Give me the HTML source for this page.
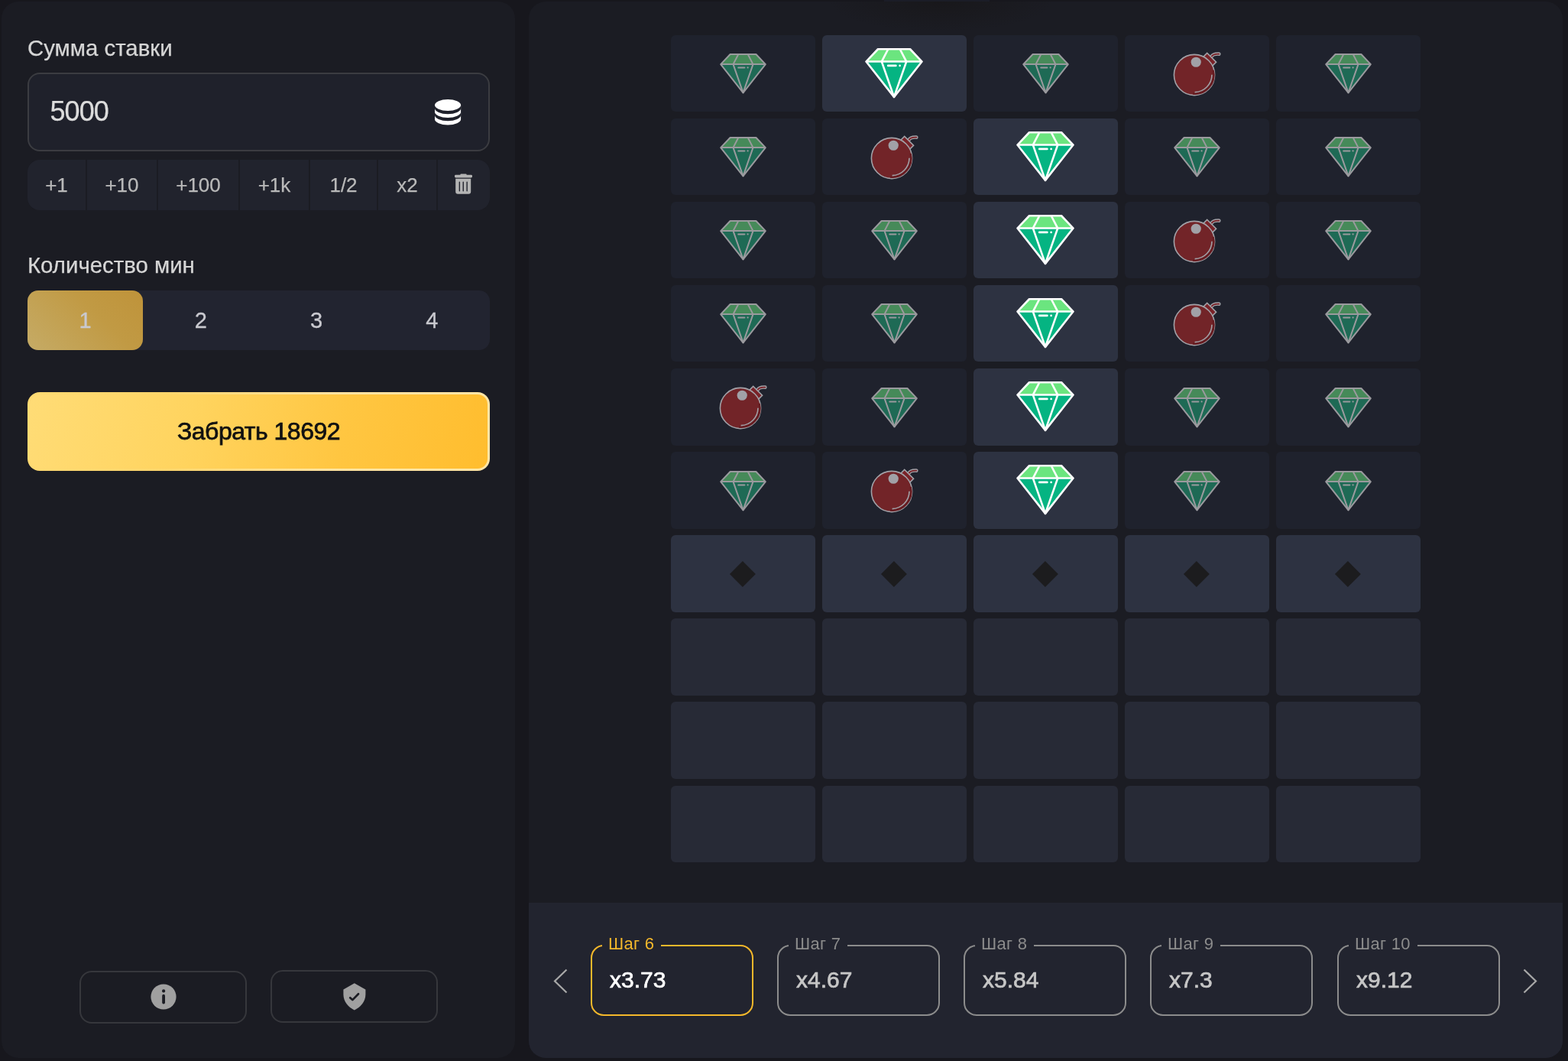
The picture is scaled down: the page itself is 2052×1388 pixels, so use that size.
<!DOCTYPE html>
<html lang="ru">
<head>
<meta charset="utf-8">
<title>Mines</title>
<style>
*{box-sizing:border-box;margin:0;padding:0}
html,body{width:2052px;height:1388px;overflow:hidden}
body{background:#17171d;font-family:"Liberation Sans",Arial,sans-serif;position:relative}
.abs{position:absolute}
#left{left:2px;top:2px;width:672px;height:1382px;background:#1b1c23;border-radius:22px}
#right{left:692px;top:2px;width:1353px;height:1382px;background:#1b1c23;border-radius:22px;overflow:hidden}
#steps{left:0;top:1179px;width:1353px;height:203px;background:#22242f}
.lbl{color:#d6d6d6;font-size:29.4px;-webkit-text-stroke:0.25px #d6d6d6;white-space:nowrap}
#bet{left:34px;top:93px;width:605px;height:103px;border:2px solid #3b3c41;border-radius:16px;background:#1f212b}
#betv{left:27.6px;top:28px;font-size:36px;color:#dcdcdc;letter-spacing:-1px;-webkit-text-stroke:0.25px #dcdcdc}
#quick{left:34px;top:207px;width:605px;height:66px;border-radius:16px;overflow:hidden;display:flex;gap:2px;background:#1b1c23}
#quick div{background:#21232d;height:66px;display:flex;align-items:center;justify-content:center;color:#b9b9b9;font-size:26px;-webkit-text-stroke:0.25px #b9b9b9}
#mines{left:34px;top:378px;width:605px;height:78px;border-radius:14px;background:#222430}
.mn{position:absolute;top:0;height:78px;width:151.25px;display:flex;align-items:center;justify-content:center;font-size:29px;color:#c9c9cf;-webkit-text-stroke:0.3px #c9c9cf}
#mn1{left:0;border-radius:14px;background:linear-gradient(45deg,#c5ab66 0%,#c19a44 60%,#bf933a 100%)}
#cash{left:34px;top:511px;width:605px;height:103px;border-radius:16px;border:3.6px solid transparent;background:linear-gradient(105deg,#ffdc76 0%,#ffd45f 35%,#ffc641 68%,#ffbd2e 100%) padding-box,linear-gradient(90deg,#ffda72 0%,#ffd66c 30%,#ffe3a0 65%,#ffe6a6 100%) border-box;display:flex;align-items:center;justify-content:center;font-size:32px;color:#111;-webkit-text-stroke:0.75px #111;letter-spacing:-0.5px}
.ob{top:1268px;width:219px;height:69px;border:2px solid #36373c;border-radius:16px}
.cell{position:absolute;width:189.2px;height:100.6px;border-radius:6px;display:flex;align-items:center;justify-content:center}
.c0{background:#1f222d}
.c1{background:#2d3241}
.c2{background:#272a36}
.mk{left:82.1px;top:38.7px;width:23.8px;height:23.8px;background:#1c1c1e;transform:rotate(45deg)}
.card{position:absolute;top:55px;width:213px;height:93px;border:2px solid #8c8c8c;border-radius:17px}
.card .t{position:absolute;left:13px;top:-17px;padding:0 9px 0 8px;letter-spacing:0.3px;background:#22242f;font-size:22px;color:#8c8c8c;white-space:nowrap;line-height:28px}
.card .v{position:absolute;left:23px;top:26.5px;font-size:30px;color:#c6c6c6;-webkit-text-stroke:0.7px #c6c6c6}
.card.on{border-color:#f4b82b}
.card.on .t{color:#f4b82b}
.card.on .v{color:#fff;-webkit-text-stroke-color:#fff}
</style>
</head>
<body>
<svg width="0" height="0" style="position:absolute">
 <defs>
  <symbol id="gd" viewBox="0 0 61 53">
   <polygon points="13.6,1 47.4,1 59.8,14.1 1.2,14.1" fill="#468a59"/>
   <polygon points="1.2,14.1 59.8,14.1 30.5,51.3" fill="#1e6a55"/>
   <g fill="none" stroke="#9a9a9e" stroke-width="2" stroke-linejoin="round">
    <polygon points="13.6,1 47.4,1 59.8,14.1 30.5,51.3 1.2,14.1"/>
    <line x1="1.2" y1="14.1" x2="59.8" y2="14.1"/>
    <polyline points="24.3,1 17.5,14.1 30.5,51.3 43.5,14.1 36.7,1"/>
    <line x1="24.2" y1="18.4" x2="32.4" y2="18.4" stroke-linecap="round"/>
   </g>
   <circle cx="36.6" cy="18.4" r="1.1" fill="#9a9a9e"/>
  </symbol>
  <symbol id="gb" viewBox="0 0 61 53">
   <polygon points="13.6,1 47.4,1 59.8,14.1 1.2,14.1" fill="#6be57f"/>
   <polygon points="1.2,14.1 59.8,14.1 30.5,51.3" fill="#05b482"/>
   <g fill="none" stroke="#fff" stroke-width="2.1" stroke-linejoin="round">
    <polygon points="13.6,1 47.4,1 59.8,14.1 30.5,51.3 1.2,14.1"/>
    <line x1="1.2" y1="14.1" x2="59.8" y2="14.1"/>
    <polyline points="24.3,1 17.5,14.1 30.5,51.3 43.5,14.1 36.7,1"/>
    <line x1="24.2" y1="18.4" x2="32.4" y2="18.4" stroke-linecap="round"/>
   </g>
   <circle cx="36.6" cy="18.4" r="1.1" fill="#fff"/>
  </symbol>
  <symbol id="bomb" viewBox="-30 -36 66 66">
   <path d="M22.5,-24 C24,-27 28,-27.6 32.3,-27.4" stroke="#a1a1a7" stroke-width="4.6" fill="none" stroke-linecap="round"/>
   <path d="M22.5,-24 C24,-27 28,-27.6 32.3,-27.4" stroke="#7a2228" stroke-width="1.8" fill="none" stroke-linecap="round"/>
   <g transform="rotate(45)"><rect x="-8.4" y="-32" width="16.8" height="10" fill="#7a2228" stroke="#a1a1a7" stroke-width="1.6"/></g>
   <circle r="26.6" fill="#722428" stroke="#a1a1a7" stroke-width="1.6"/>
   <circle cx="2.2" cy="-16.75" r="6.6" fill="#a1a1a7"/>
   <path d="M24.6,-6 A24.6,24.6 0 0 1 -2,24.5" stroke="#661c21" stroke-width="2.6" fill="none"/>
   <path d="M23,-0.2 A23,23 0 0 1 0.6,22.6" stroke="#a1a1a7" stroke-width="1.6" fill="none"/>
  </symbol>
 </defs>
</svg>

<div id="left" class="abs">
 <div class="abs lbl" style="left:34px;top:43.5px">Сумма ставки</div>
 <div id="bet" class="abs">
  <div id="betv" class="abs">5000</div>
  <svg class="abs" style="left:531px;top:33px" width="36" height="36" viewBox="0 0 36 36">
   <path d="M0,7.5 A17.05,7.45 0 0 1 34.1,7.5 L34.1,25.95 A17.05,7.45 0 0 1 0,25.95 Z" fill="#fff"/>
   <path d="M0,7.5 A17.05,7.45 0 0 0 34.1,7.5 L34.1,11.7 A17.05,7.45 0 0 1 0,11.7 Z" fill="#1f212b"/>
   <path d="M0,16.55 A17.05,7.45 0 0 0 34.1,16.55 L34.1,20.75 A17.05,7.45 0 0 1 0,20.75 Z" fill="#1f212b"/>
  </svg>
 </div>
 <div id="quick" class="abs">
  <div style="width:76px">+1</div>
  <div style="width:91px">+10</div>
  <div style="width:105px">+100</div>
  <div style="width:90px">+1k</div>
  <div style="width:87px">1/2</div>
  <div style="width:76px">x2</div>
  <div style="flex:1">
   <svg width="24" height="29" viewBox="0 0 24 29" style="position:relative;top:-1.1px;left:-0.5px"><rect x="7.3" y="1.5" width="8.4" height="3" rx="1.2" fill="#b4b4b4"/><rect x="0" y="2.7" width="23" height="3.8" rx="1.4" fill="#b4b4b4"/><path d="M1.2,7.7 h20 v17 a3,3 0 0 1 -3,3 h-14 a3,3 0 0 1 -3,-3z" fill="#b4b4b4"/><rect x="5.65" y="11.4" width="1.4" height="13" rx="0.7" fill="#21232d"/><rect x="10.55" y="11.4" width="1.4" height="13" rx="0.7" fill="#21232d"/><rect x="15.45" y="11.4" width="1.4" height="13" rx="0.7" fill="#21232d"/></svg>
  </div>
 </div>
 <div class="abs lbl" style="left:34px;top:327.5px">Количество мин</div>
 <div id="mines" class="abs">
  <div id="mn1" class="mn" style="left:0">1</div>
  <div class="mn" style="left:151.25px">2</div>
  <div class="mn" style="left:302.5px">3</div>
  <div class="mn" style="left:453.75px">4</div>
 </div>
 <div id="cash" class="abs">Забрать 18692</div>
 <div class="abs ob" style="left:102px">
  <svg class="abs" style="left:90.6px;top:15.1px" width="34" height="34" viewBox="0 0 34 34"><circle cx="17" cy="17" r="16.6" fill="#a0a0a0"/><circle cx="17.1" cy="9.4" r="2.1" fill="#1b1c23"/><line x1="17.1" y1="15.7" x2="17.1" y2="24.5" stroke="#1b1c23" stroke-width="3.8" stroke-linecap="round"/></svg>
 </div>
 <div class="abs ob" style="left:352px;top:1267px">
  <svg class="abs" style="left:92.6px;top:14.6px" width="31" height="37" viewBox="0 0 31 37"><path d="M14.8,0.3 L29.4,8.4 L29.4,15 C29.4,24 22.8,31.5 14.8,35.5 C6.8,31.5 0.4,24 0.4,15 L0.4,8.4 Z" fill="#a0a0a0"/><polyline points="9.2,19.3 12.3,22.1 20,14.2" fill="none" stroke="#1b1c23" stroke-width="2.7" stroke-linecap="round" stroke-linejoin="round"/></svg>
 </div>
</div>

<div id="right" class="abs">
 <div class="abs" style="left:389px;top:-40px;width:300px;height:80px;background:radial-gradient(ellipse at center,rgba(22,20,20,.55) 0%,rgba(22,20,20,0) 70%)"></div>
 <div id="grid">
<div class="cell c0" style="left:186px;top:43.6px"><svg class="abs" style="left:64px;top:24.5px" width="61" height="53"><use href="#gd"/></svg></div>
<div class="cell c1" style="left:384px;top:43.6px"><svg class="abs" style="left:56px;top:17.4px" width="76" height="66"><use href="#gb"/></svg></div>
<div class="cell c0" style="left:582px;top:43.6px"><svg class="abs" style="left:64px;top:24.5px" width="61" height="53"><use href="#gd"/></svg></div>
<div class="cell c0" style="left:780px;top:43.6px"><svg class="abs" style="left:61px;top:16px" width="66" height="66"><use href="#bomb"/></svg></div>
<div class="cell c0" style="left:978px;top:43.6px"><svg class="abs" style="left:64px;top:24.5px" width="61" height="53"><use href="#gd"/></svg></div>
<div class="cell c0" style="left:186px;top:152.7px"><svg class="abs" style="left:64px;top:24.5px" width="61" height="53"><use href="#gd"/></svg></div>
<div class="cell c0" style="left:384px;top:152.7px"><svg class="abs" style="left:61px;top:16px" width="66" height="66"><use href="#bomb"/></svg></div>
<div class="cell c1" style="left:582px;top:152.7px"><svg class="abs" style="left:56px;top:17.4px" width="76" height="66"><use href="#gb"/></svg></div>
<div class="cell c0" style="left:780px;top:152.7px"><svg class="abs" style="left:64px;top:24.5px" width="61" height="53"><use href="#gd"/></svg></div>
<div class="cell c0" style="left:978px;top:152.7px"><svg class="abs" style="left:64px;top:24.5px" width="61" height="53"><use href="#gd"/></svg></div>
<div class="cell c0" style="left:186px;top:261.8px"><svg class="abs" style="left:64px;top:24.5px" width="61" height="53"><use href="#gd"/></svg></div>
<div class="cell c0" style="left:384px;top:261.8px"><svg class="abs" style="left:64px;top:24.5px" width="61" height="53"><use href="#gd"/></svg></div>
<div class="cell c1" style="left:582px;top:261.8px"><svg class="abs" style="left:56px;top:17.4px" width="76" height="66"><use href="#gb"/></svg></div>
<div class="cell c0" style="left:780px;top:261.8px"><svg class="abs" style="left:61px;top:16px" width="66" height="66"><use href="#bomb"/></svg></div>
<div class="cell c0" style="left:978px;top:261.8px"><svg class="abs" style="left:64px;top:24.5px" width="61" height="53"><use href="#gd"/></svg></div>
<div class="cell c0" style="left:186px;top:370.9px"><svg class="abs" style="left:64px;top:24.5px" width="61" height="53"><use href="#gd"/></svg></div>
<div class="cell c0" style="left:384px;top:370.9px"><svg class="abs" style="left:64px;top:24.5px" width="61" height="53"><use href="#gd"/></svg></div>
<div class="cell c1" style="left:582px;top:370.9px"><svg class="abs" style="left:56px;top:17.4px" width="76" height="66"><use href="#gb"/></svg></div>
<div class="cell c0" style="left:780px;top:370.9px"><svg class="abs" style="left:61px;top:16px" width="66" height="66"><use href="#bomb"/></svg></div>
<div class="cell c0" style="left:978px;top:370.9px"><svg class="abs" style="left:64px;top:24.5px" width="61" height="53"><use href="#gd"/></svg></div>
<div class="cell c0" style="left:186px;top:480.0px"><svg class="abs" style="left:61px;top:16px" width="66" height="66"><use href="#bomb"/></svg></div>
<div class="cell c0" style="left:384px;top:480.0px"><svg class="abs" style="left:64px;top:24.5px" width="61" height="53"><use href="#gd"/></svg></div>
<div class="cell c1" style="left:582px;top:480.0px"><svg class="abs" style="left:56px;top:17.4px" width="76" height="66"><use href="#gb"/></svg></div>
<div class="cell c0" style="left:780px;top:480.0px"><svg class="abs" style="left:64px;top:24.5px" width="61" height="53"><use href="#gd"/></svg></div>
<div class="cell c0" style="left:978px;top:480.0px"><svg class="abs" style="left:64px;top:24.5px" width="61" height="53"><use href="#gd"/></svg></div>
<div class="cell c0" style="left:186px;top:589.1px"><svg class="abs" style="left:64px;top:24.5px" width="61" height="53"><use href="#gd"/></svg></div>
<div class="cell c0" style="left:384px;top:589.1px"><svg class="abs" style="left:61px;top:16px" width="66" height="66"><use href="#bomb"/></svg></div>
<div class="cell c1" style="left:582px;top:589.1px"><svg class="abs" style="left:56px;top:17.4px" width="76" height="66"><use href="#gb"/></svg></div>
<div class="cell c0" style="left:780px;top:589.1px"><svg class="abs" style="left:64px;top:24.5px" width="61" height="53"><use href="#gd"/></svg></div>
<div class="cell c0" style="left:978px;top:589.1px"><svg class="abs" style="left:64px;top:24.5px" width="61" height="53"><use href="#gd"/></svg></div>
<div class="cell c1" style="left:186px;top:698.2px"><div class="abs mk"></div></div>
<div class="cell c1" style="left:384px;top:698.2px"><div class="abs mk"></div></div>
<div class="cell c1" style="left:582px;top:698.2px"><div class="abs mk"></div></div>
<div class="cell c1" style="left:780px;top:698.2px"><div class="abs mk"></div></div>
<div class="cell c1" style="left:978px;top:698.2px"><div class="abs mk"></div></div>
<div class="cell c2" style="left:186px;top:807.3px"></div>
<div class="cell c2" style="left:384px;top:807.3px"></div>
<div class="cell c2" style="left:582px;top:807.3px"></div>
<div class="cell c2" style="left:780px;top:807.3px"></div>
<div class="cell c2" style="left:978px;top:807.3px"></div>
<div class="cell c2" style="left:186px;top:916.4px"></div>
<div class="cell c2" style="left:384px;top:916.4px"></div>
<div class="cell c2" style="left:582px;top:916.4px"></div>
<div class="cell c2" style="left:780px;top:916.4px"></div>
<div class="cell c2" style="left:978px;top:916.4px"></div>
<div class="cell c2" style="left:186px;top:1025.5px"></div>
<div class="cell c2" style="left:384px;top:1025.5px"></div>
<div class="cell c2" style="left:582px;top:1025.5px"></div>
<div class="cell c2" style="left:780px;top:1025.5px"></div>
<div class="cell c2" style="left:978px;top:1025.5px"></div>
</div>
 <div id="steps" class="abs">
  <svg class="abs" style="left:32px;top:86px" width="20" height="34" viewBox="0 0 20 34"><polyline points="17.5,1.5 2,16.5 17.5,31.5" fill="none" stroke="#a8a8a8" stroke-width="2.2"/></svg>
  <div class="card on" style="left:81px"><div class="t">Шаг 6</div><div class="v">x3.73</div></div>
  <div class="card" style="left:325px"><div class="t">Шаг 7</div><div class="v">x4.67</div></div>
  <div class="card" style="left:569px"><div class="t">Шаг 8</div><div class="v">x5.84</div></div>
  <div class="card" style="left:813px"><div class="t">Шаг 9</div><div class="v">x7.3</div></div>
  <div class="card" style="left:1058px"><div class="t">Шаг 10</div><div class="v">x9.12</div></div>
  <svg class="abs" style="left:1300px;top:86px" width="20" height="34" viewBox="0 0 20 34"><polyline points="2.5,1.5 18,16.5 2.5,31.5" fill="none" stroke="#a8a8a8" stroke-width="2.2"/></svg>
 </div>
</div>
<div class="abs" style="left:1157px;top:0;width:138px;height:2px;background:#1b1d27"></div>
</body>
</html>
